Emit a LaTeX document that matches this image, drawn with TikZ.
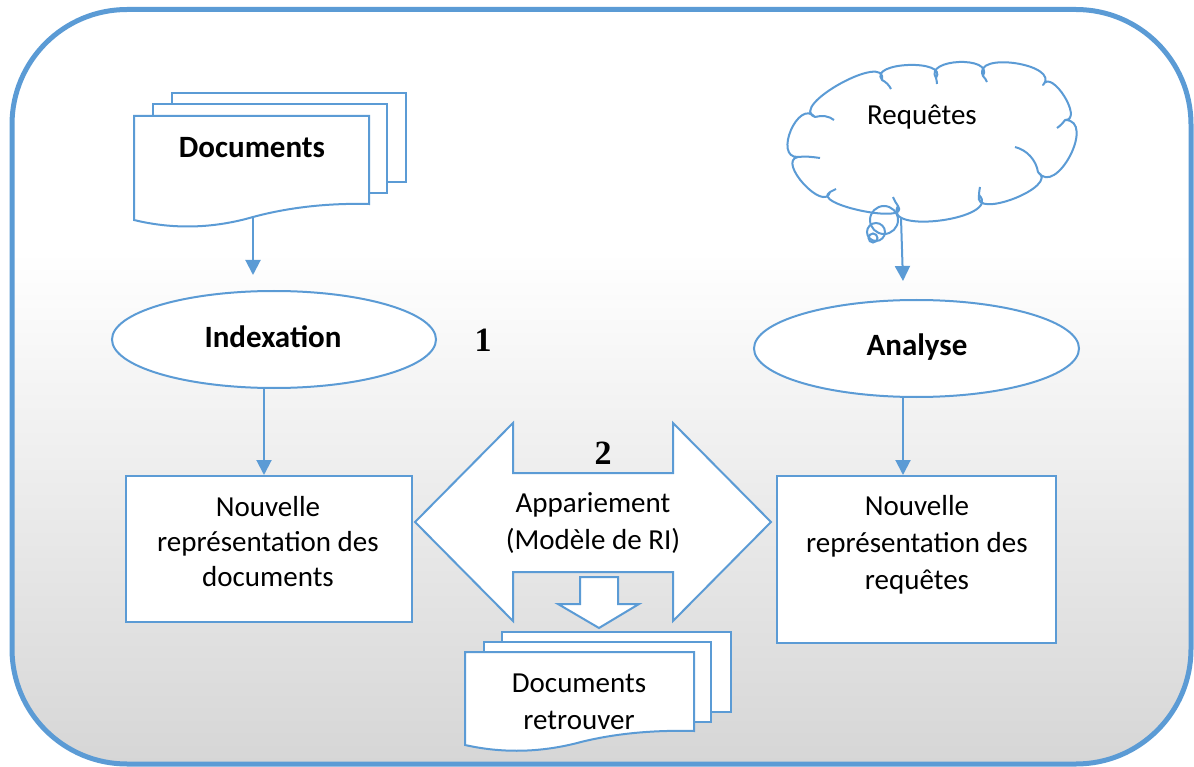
\documentclass[tikz,border=0pt]{standalone}
\usepackage{fontspec}
\setmainfont{Carlito}
\newfontfamily\numfont{Liberation Serif}
\usetikzlibrary{shapes.geometric,arrows.meta}
\definecolor{edge}{HTML}{5B9BD5}
\definecolor{bgbot}{HTML}{D6D6D6}
% panel background: light grey at the bottom fading to white in the upper third
\pgfdeclareverticalshading{panel}{100bp}{color(0bp)=(bgbot); color(25bp)=(bgbot); color(59bp)=(white); color(100bp)=(white)}
\tikzset{
  sheet/.style={draw=edge, line width=2pt, fill=white, line join=miter},
  stroke/.style={draw=edge, line width=2pt},
  link/.style={draw=edge, line width=2pt, -{Triangle[length=15pt,width=15pt]}},
  body/.style={font=\fontsize{29}{37}\selectfont, align=center, inner sep=0pt},
  heading/.style={font=\fontsize{31}{37}\selectfont\bfseries, inner sep=0pt},
  numeral/.style={font=\fontsize{34}{40}\selectfont\numfont\bfseries, inner sep=0pt},
}
\begin{document}
\begin{tikzpicture}[x=1pt, y=-1pt]
\useasboundingbox (0,0) rectangle (1194,767);

% outer frame
\path[shading=panel] [rounded corners=115pt] (12,9.5) rectangle (1191,764);
\draw[edge, line width=5pt, rounded corners=115pt] (12,9.5) rectangle (1191,764);

% ---- stack of source documents (top left)
\draw[sheet] (172,93) rectangle (406,182);
\draw[sheet] (153,104) rectangle (387,193);
\draw[sheet] (134,116) -- (369,116) -- (369,204)
  .. controls (330,203) and (290,207) .. (253,217)
  .. controls (215,228) and (175,230) .. (134,220) -- cycle;
\node[heading] (docs) at (252,148) {Documents};
\coordinate (docsout) at (253,217);
\coordinate (idxin) at (253,275);

% ---- indexing
\node[sheet, ellipse, minimum width=324pt, minimum height=97pt, inner sep=0pt] (idx) at (274,339.5) {};
\node[heading] (idxtxt) at (273,337) {Indexation};
\node[numeral] (one) at (483,340) {1};

\node[sheet, rectangle, minimum width=286pt, minimum height=146pt, inner sep=0pt] (docrep) at (269,549) {};
\node[body, font=\fontsize{29}{35}\selectfont] (docreptxt) at (268,542) {Nouvelle\\représentation des\\documents};

% ---- queries (top right): thought cloud built from eleven puffs
\draw[sheet, line join=round]
  (815,117) .. controls (787.3,106.4) and (887.8,50.9) .. (882,80)
            .. controls (867.8,61.8) and (948.8,58.8) .. (936,78)
            .. controls (923.5,58.5) and (994,55.5) .. (983,76)
            .. controls (971.5,50.75) and (1061.5,64.25) .. (1043,85)
            .. controls (1051.1,67.75) and (1084.1,120.25) .. (1065,120)
            .. controls (1096.6,119.9) and (1056,197.9) .. (1038,172)
            .. controls (1060.5,186.2) and (972,220.7) .. (979,195)
            .. controls (1002.9,218.75) and (881.4,235.25) .. (898,206)
            .. controls (911.8,225.2) and (809.8,204.2) .. (830,192)
            .. controls (824.2,213.35) and (776.2,160.85) .. (798,157)
            .. controls (772.85,158.1) and (798.35,98.1) .. (815,117) -- cycle;
% inner puff tails
\draw[stroke] (815,117) .. controls (822,115) and (829,116) .. (834,120);
\draw[stroke] (882,80) .. controls (886,82) and (889,85) .. (891,89);
\draw[stroke] (936,78) .. controls (936.5,80) and (937,82) .. (937,84);
\draw[stroke] (983,76) .. controls (985,78) and (986,80) .. (987,82);
\draw[stroke] (1065,120) .. controls (1063,123) and (1060,126) .. (1057,128);
\draw[stroke] (1015,147) .. controls (1027,150) and (1036,160) .. (1038,172);
\draw[stroke] (979,195) .. controls (979,192) and (979.5,190) .. (980,187);
\draw[stroke] (898,206) .. controls (896,203) and (894,200) .. (893,197);
\draw[stroke] (830,192) .. controls (832,191) and (834,190) .. (836,189);
\draw[stroke] (798,157) .. controls (805,156) and (813,157) .. (820,158);
\node[body] (reqtxt) at (922,117) {Requêtes};
\draw[stroke] (884,220) circle (14);
\draw[stroke] (876,232) circle (9);
\draw[stroke] (873,238) circle (4.5);
\coordinate (reqout) at (901,218);
\coordinate (anain) at (903,281);

\node[sheet, ellipse, minimum width=325pt, minimum height=97pt, inner sep=0pt] (ana) at (916.5,348.5) {};
\node[heading] (anatxt) at (917,347) {Analyse};

\node[sheet, rectangle, minimum width=279pt, minimum height=167pt, inner sep=0pt] (reqrep) at (916.5,559.5) {};
\node[body] (reqreptxt) at (917,545) {Nouvelle\\représentation des\\requêtes};

% ---- matching (double arrow)
\draw[sheet] (415,522) -- (513,423) -- (513,473) -- (673,473) -- (673,423) -- (771,522)
  -- (673,621) -- (673,572) -- (513,572) -- (513,621) -- cycle;
\node[numeral] (two) at (603,453) {2};
\node[body] (match) at (593,523) {Appariement\\(Modèle de RI)};

% output arrow
\draw[sheet] (580,577) -- (618,577) -- (618,604) -- (639,604) -- (599,628) -- (558,604) -- (580,604) -- cycle;

% ---- retrieved documents
\draw[sheet] (502,632) rectangle (731,712);
\draw[sheet] (484,642) rectangle (711,722);
\draw[sheet] (465,652) -- (694,652) -- (694,731)
  .. controls (656,730) and (617,733) .. (581,742)
  .. controls (544,752) and (505,754) .. (465,745) -- cycle;
\node[body] (found) at (579,702) {Documents\\retrouver};

% ---- connectors
\draw[link] (docsout) -- (idxin);
\draw[link] ([xshift=-10pt]idx.south) -- ([xshift=-5pt]docrep.north);
\draw[link] (reqout) -- (anain);
\draw[link] ([xshift=-13.5pt]ana.south) -- ([xshift=-13.5pt]reqrep.north);
\end{tikzpicture}
\end{document}
